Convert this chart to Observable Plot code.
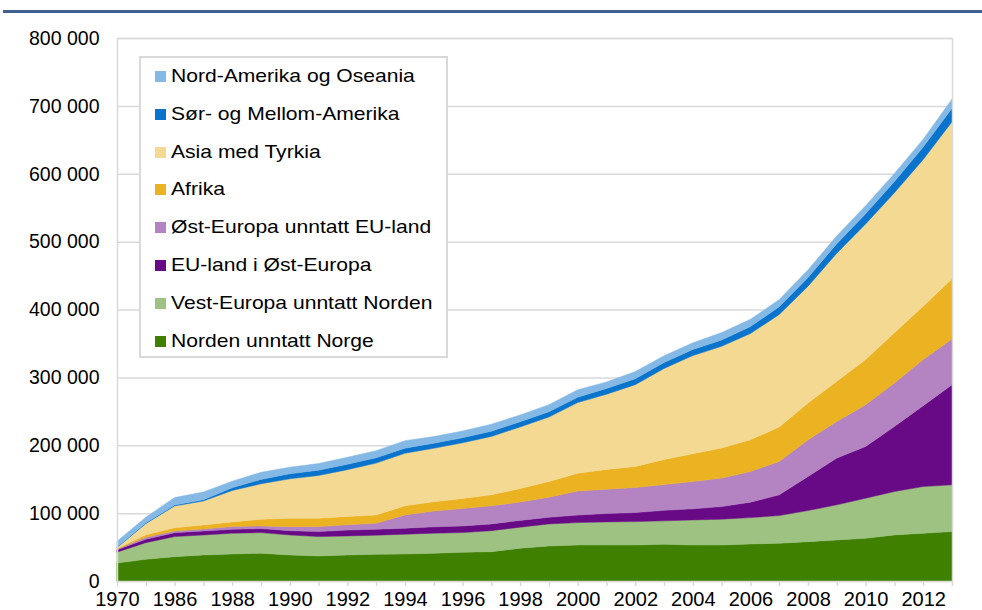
<!DOCTYPE html>
<html>
<head>
<meta charset="utf-8">
<script src="https://cdn.jsdelivr.net/npm/d3@7"></script>
<script src="https://cdn.jsdelivr.net/npm/@observablehq/plot@0.6"></script>
<style>
  body { margin: 0; background: #fff; font-family: "Liberation Sans", Arial, sans-serif; }
  #wrap { position: relative; width: 982px; height: 610px; overflow: hidden; background: #fff; }
  #topline { position: absolute; left: 3px; right: 0; top: 10px; height: 3px; background: #42608f; }
  #chart { position: absolute; left: 0; top: 0; }
  #legend { position: absolute; left: 139px; top: 56px; width: 305px; height: 298px; border: 2px solid #d9d9d9; background: #fff; }
  .item { position: absolute; left: 14px; height: 20px; white-space: nowrap; }
  .sw { position: absolute; left: 0; top: 4px; width: 11px; height: 11px; }
  .lab { position: absolute; left: 16px; top: -2px; font-size: 19px; color: #000; transform: scaleX(1.11); transform-origin: left center; line-height: 22px; }
</style>
</head>
<body>
<div id="wrap">
  <div id="topline"></div>
  <div id="chart"></div>
  <div id="legend"></div>
</div>
<script>
// Categories (x axis); the second category is unlabeled on the axis
const years = ["1970","1980","1986","1987","1988","1989","1990","1991","1992","1993","1994","1995","1996","1997","1998","1999","2000","2001","2002","2003","2004","2005","2006","2007","2008","2009","2010","2011","2012","2013"];

// Series (stack order bottom -> top)
const norden   = [26500,32000,35900,38400,39900,40900,38400,36900,38400,39400,39900,40900,42400,43200,48300,51700,53100,53100,53100,54200,53100,53100,54600,55600,58000,60500,63000,67900,70400,72800];
const vestEur  = [16000,24500,29500,29500,30500,30400,29500,28500,28000,28100,29000,29500,28900,31000,31000,32400,33000,34000,34400,34400,36900,38000,38800,40800,45800,51700,59000,63900,68800,68900];
const euOst    = [3500,5000,5800,5800,5800,5900,6300,7400,8600,8800,8900,9400,9800,9900,10000,9800,11000,12300,13300,15500,16300,18600,22800,30500,50200,68900,76200,95900,119100,147600];
const ostEur   = [1000,3000,2500,3000,4000,4000,5900,7400,7900,8900,19600,23200,25700,26600,27000,29500,35400,35900,36900,37900,40300,41900,45100,49200,54100,54000,61600,64100,67900,67400];
const afrika   = [700,3500,4900,5900,6900,9900,12400,12200,12200,12200,13300,13700,14700,16200,19800,23100,26200,29100,31000,36900,40900,44300,46800,50800,54200,59100,66400,73800,78700,88600];
const asia     = [1500,16500,32000,35300,46200,52100,58000,63100,68900,76300,77500,78900,82100,86100,90900,95000,104200,110700,120600,134300,144600,149900,156500,165700,172100,188800,199800,206400,216100,231200];
const sorAm    = [800,1000,1300,1800,4000,6500,7500,7800,8000,7800,7500,7500,7600,7600,7700,7800,8000,8400,8700,8800,9000,9300,10200,11500,12600,14000,15000,16500,18500,20000];
const nordAm   = [8500,8500,11000,11500,9700,10400,9700,9700,10300,10500,11000,9700,9800,10500,9900,10500,10800,9800,10500,9900,9800,10900,10800,10500,11500,11500,12000,12000,11500,13500];

const seriesNames = ["Norden unntatt Norge","Vest-Europa unntatt Norden","EU-land i Øst-Europa","Øst-Europa unntatt EU-land","Afrika","Asia med Tyrkia","Sør- og Mellom-Amerika","Nord-Amerika og Oseania"];
const seriesValues = [norden, vestEur, euOst, ostEur, afrika, asia, sorAm, nordAm];
const seriesColors = ["#3f8000","#9dc281","#680a85","#b383c2","#ebb221","#f4d993","#0a73cc","#85b9e5"];

const yTicks = [0,100000,200000,300000,400000,500000,600000,700000,800000];

const data = [];
seriesNames.forEach((name, s) => {
  years.forEach((yr, i) => data.push({ i, year: yr, region: name, value: seriesValues[s][i] }));
});

const fmt = d => d === 0 ? "0" : d3.format(",")(d).replace(/,/g, " ");

const chart = Plot.plot({
  width: 982,
  height: 610,
  marginLeft: 117,
  marginRight: 30,
  marginTop: 38,
  marginBottom: 29,
  style: { fontFamily: '"Liberation Sans", Arial, sans-serif', fontSize: "20px", color: "#000", background: "transparent", overflow: "visible" },
  x: { type: "linear", domain: [0, years.length - 1], axis: null },
  y: { domain: [0, 800000], axis: null },
  color: { domain: seriesNames, range: seriesColors },
  marks: [
    Plot.gridY(yTicks, { stroke: "#d9d9d9", strokeOpacity: 1, strokeWidth: 1.5 }),
    Plot.areaY(data, { x: "i", y: "value", z: "region", fill: "region", stroke: "region", strokeWidth: 0.5, order: seriesNames }),
    Plot.frame({ stroke: "#d9d9d9", strokeWidth: 1.5 }),
    Plot.axisX(d3.range(years.length), { label: null, tickSize: 5, tickPadding: 5, stroke: "#d9d9d9", strokeWidth: 1.5, fill: "#000", fontSize: 20,
      tickFormat: i => (i % 2 === 0 ? years[i] : "") }),
    Plot.axisY(yTicks, { label: null, tickSize: 0, tickPadding: 18, fill: "#000", fontSize: 19.5, tickFormat: fmt })
  ]
});
document.getElementById("chart").appendChild(chart);

// Legend (top entry = top of stack)
const legend = document.getElementById("legend");
const order = seriesNames.map((n, k) => k).reverse();
order.forEach((k, row) => {
  const item = document.createElement("div");
  item.className = "item";
  item.style.top = (9 + row * 37.8) + "px";
  const sw = document.createElement("div");
  sw.className = "sw";
  sw.style.background = seriesColors[k];
  const lab = document.createElement("div");
  lab.className = "lab";
  lab.textContent = seriesNames[k];
  item.appendChild(sw);
  item.appendChild(lab);
  legend.appendChild(item);
});
</script>
</body>
</html>
